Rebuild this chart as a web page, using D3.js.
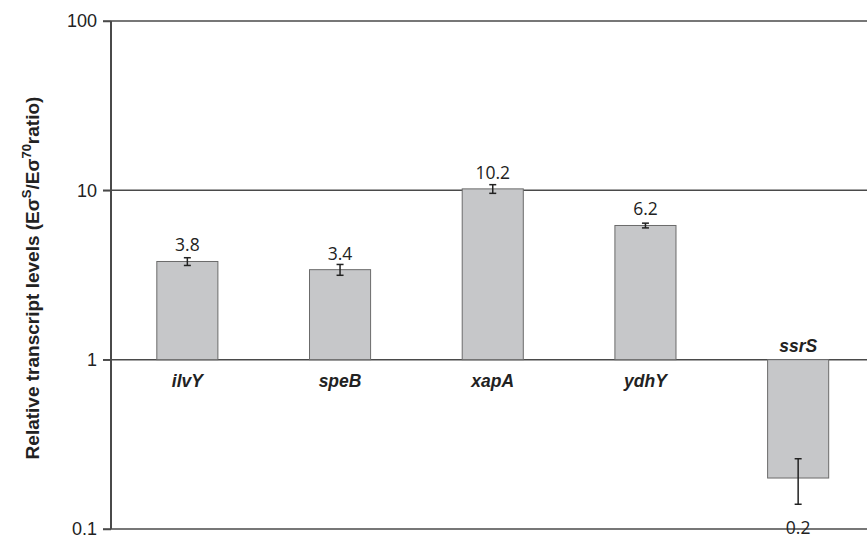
<!DOCTYPE html>
<html>
<head>
<meta charset="utf-8">
<script src="https://cdn.jsdelivr.net/npm/d3@7/dist/d3.min.js"></script>
<style>
  html, body { margin: 0; padding: 0; background: #fff; }
  svg { display: block; }
</style>
</head>
<body>
<svg id="chart" width="867" height="539"></svg>
<script>
// Relative transcript levels (EσS / Eσ70 ratio) per gene
const genes = ["ilvY", "speB", "xapA", "ydhY", "ssrS"];
const ratios = [3.8, 3.4, 10.2, 6.2, 0.2];
const errors = [0.2, 0.25, 0.6, 0.2, 0.06];
const tickValues = [0.1, 1, 10, 100];
const tickLabels = ["0.1", "1", "10", "100"];

(function () {
  const svg = d3.select("#chart");
  const W = 867;
  const plotLeft = 111, plotRight = 874.5, plotTop = 21, plotBottom = 529;
  const sans = "Liberation Sans";

  const y = d3.scaleLog().domain([0.1, 100]).range([plotBottom, plotTop]);
  const x = d3.scaleBand().domain(genes).range([plotLeft, plotRight])
    .paddingInner(0.6).paddingOuter(0.3);

  const lineColor = "#4a4a4a";

  // horizontal grid lines at each decade
  svg.append("g").selectAll("line").data(tickValues).join("line")
    .attr("x1", plotLeft - 8).attr("x2", W)
    .attr("y1", d => y(d)).attr("y2", d => y(d))
    .attr("stroke", lineColor).attr("stroke-width", 1.5);

  // y axis with tick labels
  const yAxis = d3.axisLeft(y).tickValues(tickValues)
    .tickFormat((d, i) => tickLabels[i]).tickSize(8).tickPadding(6);
  const ag = svg.append("g").attr("transform", `translate(${plotLeft},0)`).call(yAxis);
  ag.attr("font-family", sans).attr("font-size", 18);
  ag.select(".domain").attr("stroke", lineColor).attr("stroke-width", 2)
    .attr("d", `M0,${plotTop}V${plotBottom}`);
  ag.selectAll(".tick line").attr("stroke", lineColor).attr("stroke-width", 1.5);
  ag.selectAll(".tick text").attr("fill", "#222");

  // bars grow from the ratio of 1
  const base = y(1);
  svg.append("g").selectAll("rect").data(genes).join("rect")
    .attr("x", d => x(d))
    .attr("width", x.bandwidth())
    .attr("y", (d, i) => Math.min(y(ratios[i]), base))
    .attr("height", (d, i) => Math.abs(y(ratios[i]) - base))
    .attr("fill", "#c6c7c9")
    .attr("stroke", "#6b6b6b").attr("stroke-width", 1);

  // error bars
  const eg = svg.append("g").attr("stroke", "#222").attr("stroke-width", 1.5);
  genes.forEach((g, i) => {
    const cx = x(g) + x.bandwidth() / 2;
    const y1 = y(ratios[i] + errors[i]), y2 = y(ratios[i] - errors[i]);
    eg.append("line").attr("x1", cx).attr("x2", cx).attr("y1", y1).attr("y2", y2);
    eg.append("line").attr("x1", cx - 3.5).attr("x2", cx + 3.5).attr("y1", y1).attr("y2", y1);
    eg.append("line").attr("x1", cx - 3.5).attr("x2", cx + 3.5).attr("y1", y2).attr("y2", y2);
  });

  // value labels
  svg.append("g").selectAll("text").data(genes).join("text")
    .attr("x", d => x(d) + x.bandwidth() / 2)
    .attr("y", (d, i) => ratios[i] >= 1 ? y(ratios[i]) - 10 : y(ratios[i] - errors[i]) + 30)
    .attr("text-anchor", "middle")
    .attr("font-family", "Open Sans")
    .attr("font-size", 17.5).attr("fill", "#222")
    .text((d, i) => ratios[i].toFixed(1));

  // gene names: below the baseline for induced genes, above it otherwise
  svg.append("g").selectAll("text").data(genes).join("text")
    .attr("x", d => x(d) + x.bandwidth() / 2)
    .attr("y", (d, i) => ratios[i] >= 1 ? base + 27 : base - 8)
    .attr("text-anchor", "middle")
    .attr("font-family", sans)
    .attr("font-size", 17.5).attr("font-weight", "bold").attr("font-style", "italic")
    .attr("fill", "#222")
    .text(d => d);

  // y axis title with superscripts
  const title = svg.append("text")
    .attr("transform", "translate(39,278) rotate(-90)")
    .attr("text-anchor", "middle")
    .attr("font-family", sans)
    .attr("font-size", 19).attr("font-weight", "bold").attr("fill", "#222");
  title.append("tspan").text("Relative transcript levels (Eσ");
  title.append("tspan").attr("dy", -8).attr("font-size", 13).text("S");
  title.append("tspan").attr("dy", 8).text("/Eσ");
  title.append("tspan").attr("dy", -8).attr("font-size", 13).text("70");
  title.append("tspan").attr("dy", 8).text("ratio)");
})();
</script>
</body>
</html>
